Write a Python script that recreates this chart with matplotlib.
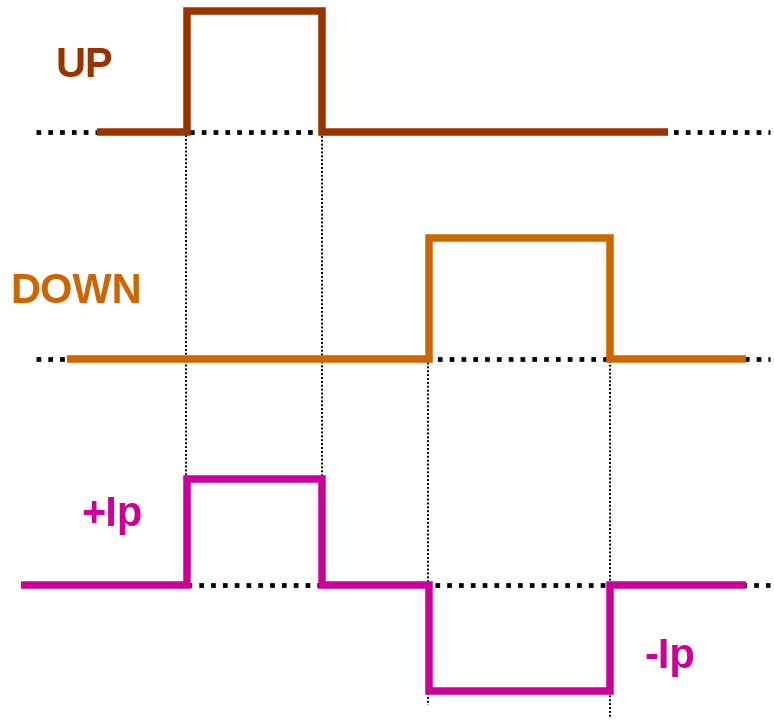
import matplotlib
matplotlib.use("Agg")
import matplotlib.pyplot as plt

# step waveforms (x = time, y = level, drawn as post-steps)
up_x = [97, 187, 322, 668]
up_y = [132, 11, 132, 132]
down_x = [67, 429, 610, 746]
down_y = [359, 238, 359, 359]
ip_x = [21, 187, 322, 429, 610, 746]
ip_y = [585, 479, 585, 691, 585, 585]

# dotted reference baselines: (x start, x end, level)
baselines = [(36, 770, 132), (36, 770, 359), (187, 770, 585)]

# thin dotted edge markers: (x, y top, y bottom)
edges = [(186, 100, 585), (322, 132, 585), (428, 343, 705), (610, 357, 717)]

labels = ["UP", "DOWN", "+Ip", "-Ip"]
label_pos = [(56, 77), (10, 303), (81, 526), (644, 668)]

c_up = "#993300"
c_down = "#CC6600"
c_ip = "#CC0099"
label_colors = [c_up, c_down, c_ip, c_ip]

fig = plt.figure(figsize=(7.74, 7.21), dpi=100)
ax = fig.add_axes([0, 0, 1, 1])
ax.set_xlim(0, 774)
ax.set_ylim(721, 0)
ax.axis("off")

# baselines first
for x0, x1, y in baselines:
    ax.plot([x0, x1], [y, y], color="black", linewidth=3.4,
            dashes=(1, 1.5), dash_capstyle="butt", zorder=1)

# vertical timing guides
for x, y0, y1 in edges:
    ax.plot([x, x], [y0, y1], color="black", linewidth=1.4,
            dashes=(1, 1), dash_capstyle="butt", zorder=1)

# waveforms on top
for xs, ys, c in [(up_x, up_y, c_up), (down_x, down_y, c_down), (ip_x, ip_y, c_ip)]:
    ax.step(xs, ys, where="post", color=c, linewidth=5.4,
            solid_joinstyle="miter", solid_capstyle="butt", zorder=2)

for txt, (x, y), c in zip(labels, label_pos, label_colors):
    ax.text(x, y, txt, color=c, fontsize=30, fontweight="bold",
            family="Liberation Sans", ha="left", va="baseline")

fig.savefig("out.png", dpi=100)
